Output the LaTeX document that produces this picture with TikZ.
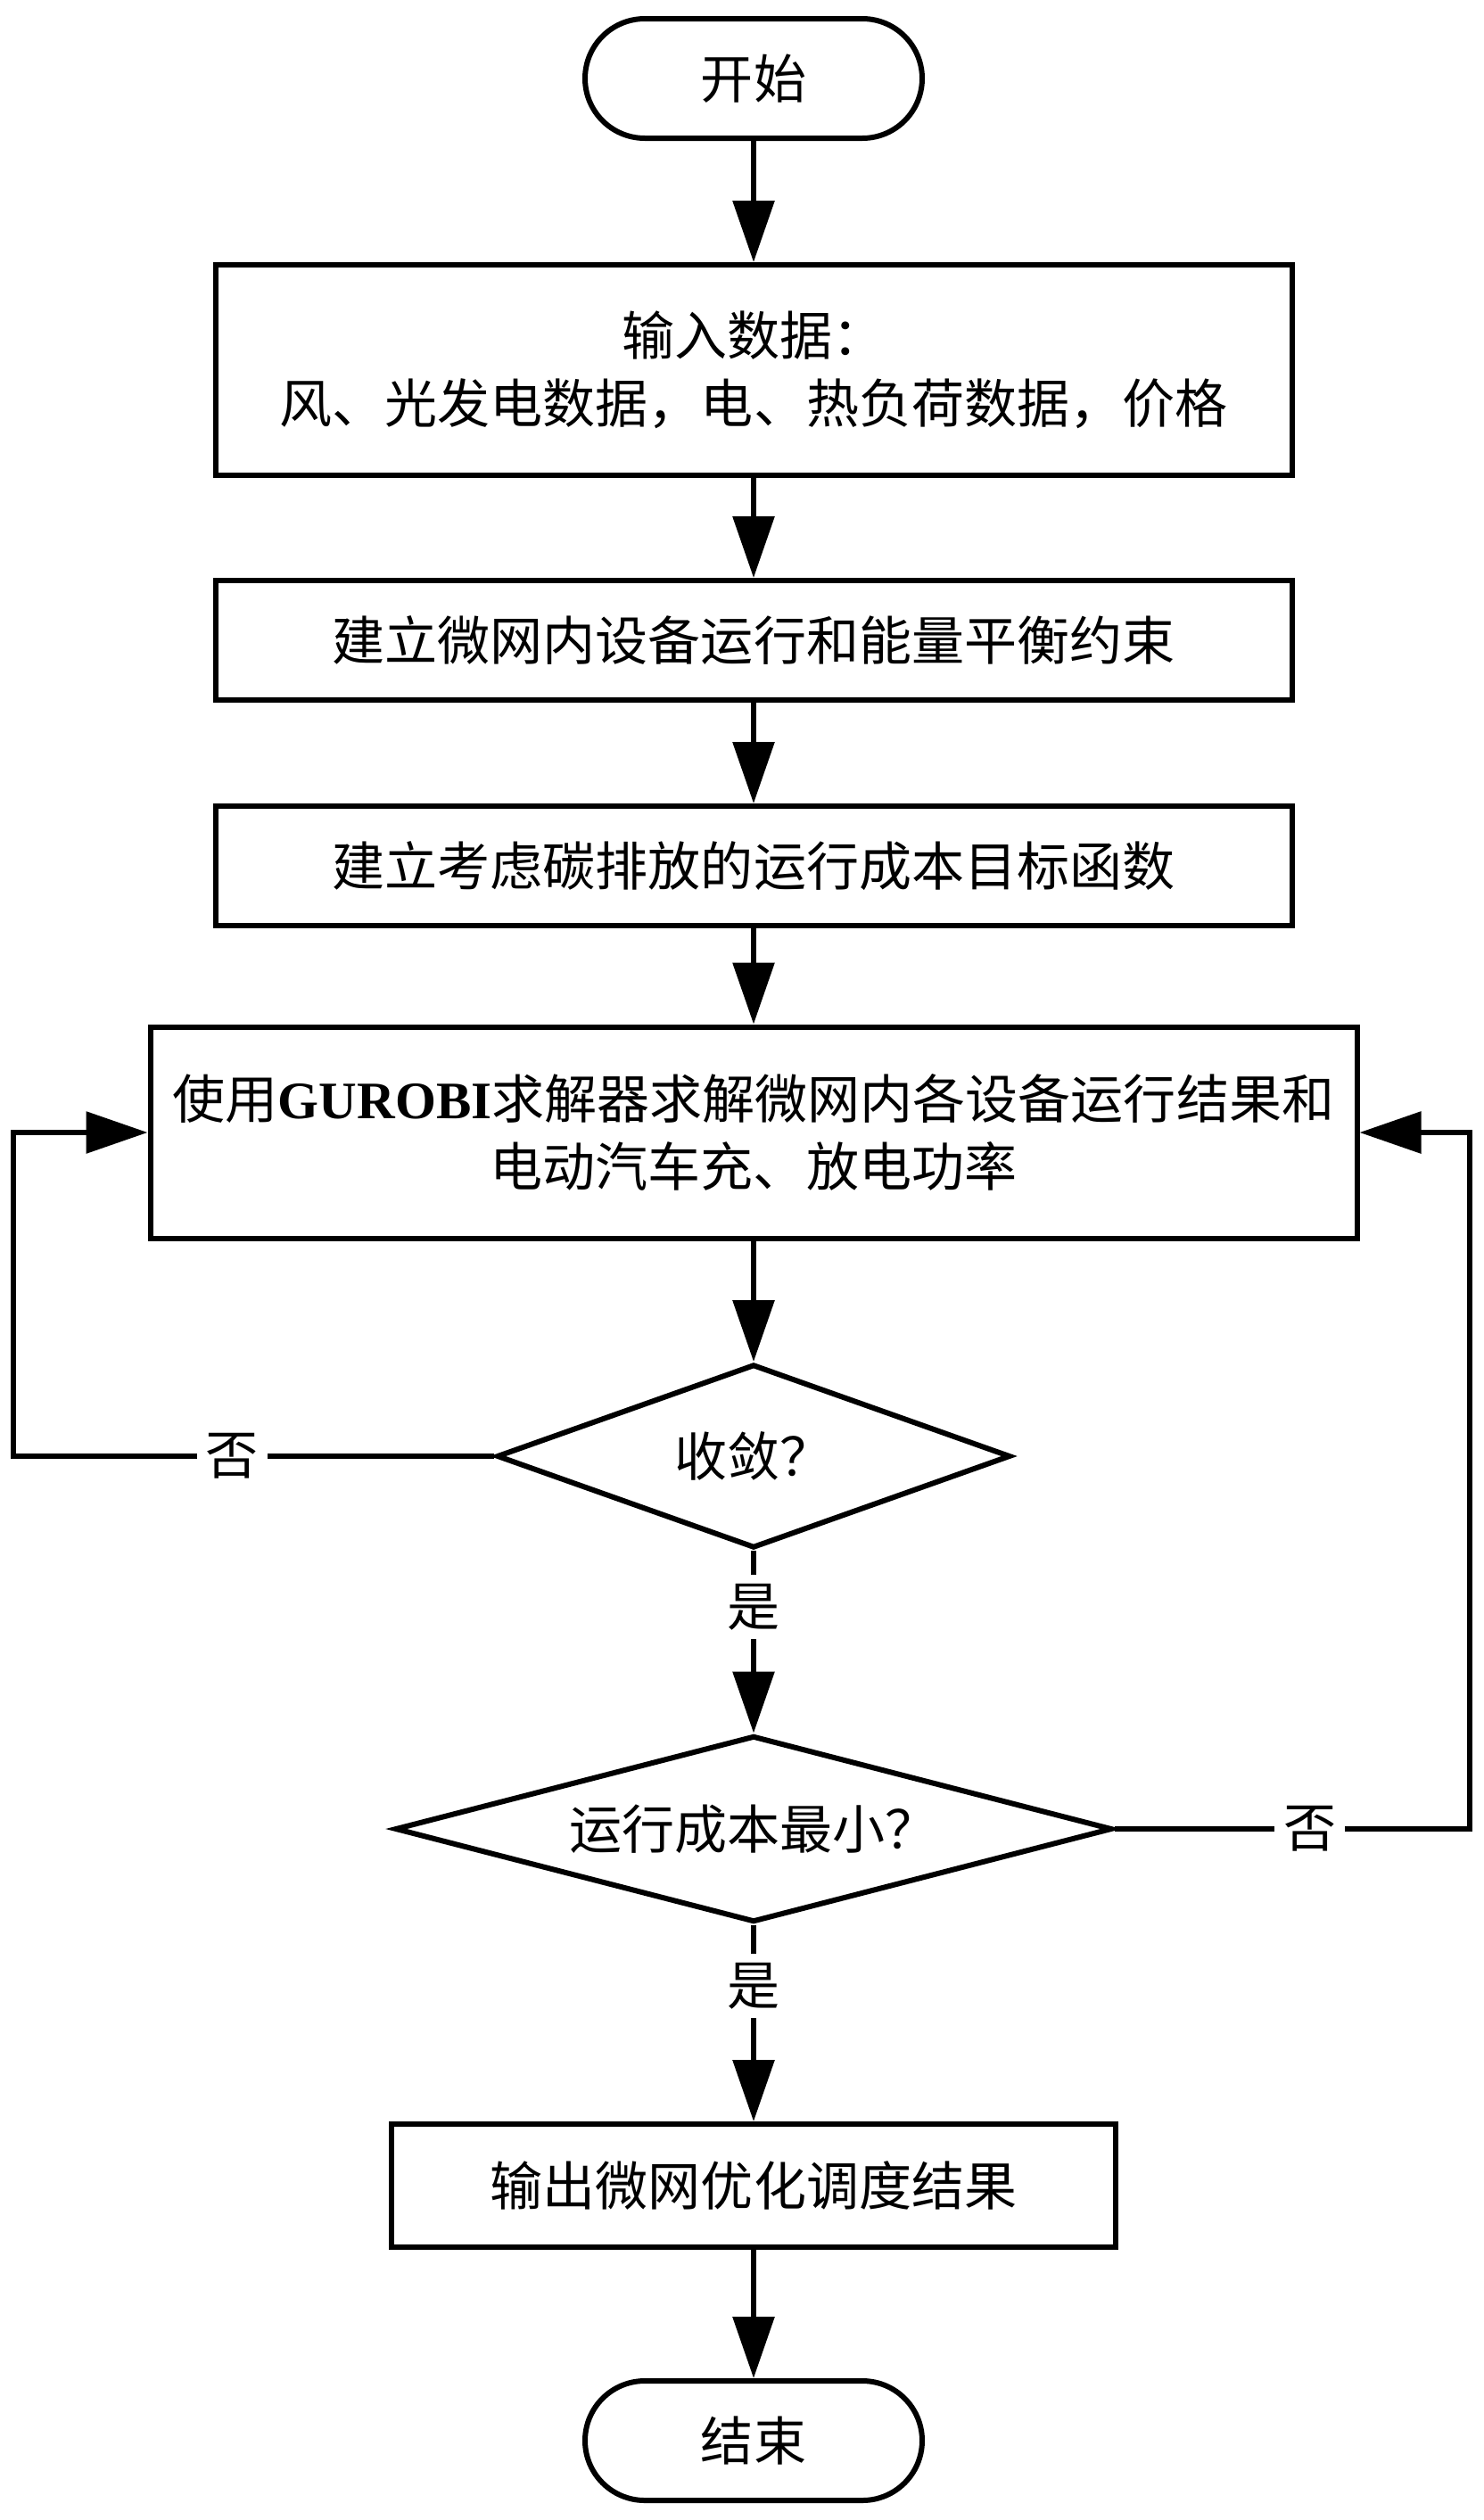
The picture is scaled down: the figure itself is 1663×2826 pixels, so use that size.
\documentclass[tikz,border=0pt]{standalone}
\usepackage{fontspec}
\setmainfont{Liberation Serif}
\newfontfamily\cjkfont{Noto Sans CJK SC}
\usepackage{tikz}
\usetikzlibrary{arrows.meta,shapes.geometric}

\begin{document}
\begin{tikzpicture}[x=0.1mm, y=-0.1mm,
    every node/.style={font=\cjkfont\fontsize{16.8pt}{21.5pt}\selectfont, align=center},
    term/.style={draw, line width=0.6mm, rounded corners=6.7mm, minimum width=37.8mm, minimum height=13.4mm},
    proc/.style={draw, line width=0.6mm, minimum width=120.7mm, minimum height=13.4mm},
    decision/.style={draw, diamond, line width=0.6mm, inner sep=0pt, aspect=3},
    arrow/.style={line width=0.6mm, -{Triangle[length=6.9mm, width=4.6mm]}},
    lbl/.style={fill=white, inner sep=1mm}]
    \useasboundingbox (0,0) rectangle (1663,2826);

    % Draw the steps
    \node[term] (start) at (845,88) {开始};
    \node[proc, minimum height=23.6mm] (input) at (845,415) {输入数据：\\风、光发电数据，电、热负荷数据，价格};
    \node[proc] (cons) at (845,718) {建立微网内设备运行和能量平衡约束};
    \node[proc] (obj) at (845,971) {建立考虑碳排放的运行成本目标函数};
    \node[proc, minimum width=135.3mm, minimum height=23.7mm] (solve) at (845,1270)
        {使用{\rmfamily\bfseries GUROBI}求解器求解微网内各设备运行结果和\\电动汽车充、放电功率};
    \node[decision, minimum width=57.6mm, minimum height=20.6mm] (conv) at (845,1633) {收敛？};
    \node[decision, minimum width=80.4mm, minimum height=20.9mm] (mincost) at (845,2051) {运行成本最小？};
    \node[proc, minimum width=81.2mm, minimum height=13.8mm] (output) at (845,2451) {输出微网优化调度结果};
    \node[term] (stop) at (845,2737) {结束};

    % Draw the straight arrows
    \foreach \a/\b in {start/input, input/cons, cons/obj, obj/solve, solve/conv, output/stop} {
        \draw[arrow] (\a) -- (\b);
    }
    \draw[arrow] (conv) -- node[pos=0.31, lbl] {是} (mincost);
    \draw[arrow] (mincost) -- node[pos=0.31, lbl] {是} (output);

    % Draw the loops back
    \coordinate (leftx) at (15,0);
    \coordinate (rightx) at (1648,0);
    \draw[arrow] (conv.west) -- node[pos=0.545, lbl] {否} (conv.west -| leftx) |- (solve.west);
    \draw[arrow] (mincost.east) -- node[pos=0.55, lbl] {否} (mincost.east -| rightx) |- (solve.east);
\end{tikzpicture}
\end{document}
